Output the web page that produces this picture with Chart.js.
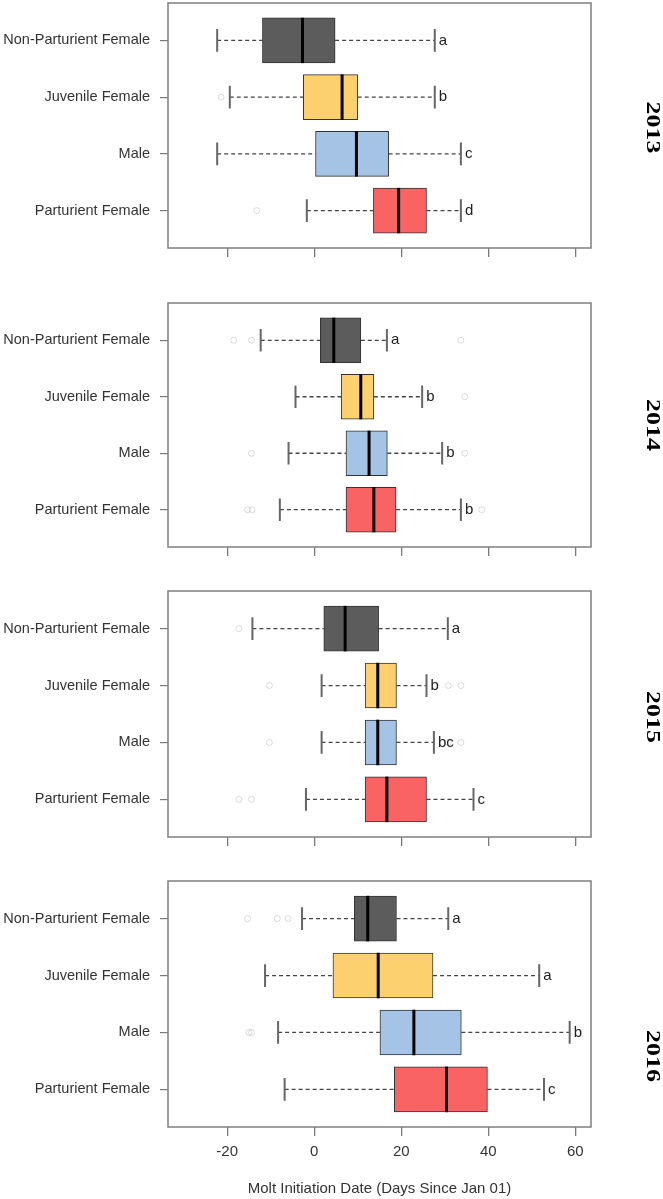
<!DOCTYPE html>
<html>
<head>
<meta charset="utf-8">
<script src="https://cdn.jsdelivr.net/npm/chart.js@4.4.7/dist/chart.umd.min.js"></script>
<style>
  html, body { margin: 0; padding: 0; background: #fff; }
  body { width: 663px; height: 1199px; position: relative; overflow: hidden; }
  .panel { position: absolute; left: 0; width: 663px; }
</style>
</head>
<body>
<div class="panel" style="top:-2px"><canvas width="663" height="264"></canvas></div>
<div class="panel" style="top:298px"><canvas width="663" height="263"></canvas></div>
<div class="panel" style="top:586px"><canvas width="663" height="265"></canvas></div>
<div class="panel" style="top:876px"><canvas width="663" height="323"></canvas></div>
<script>
const years = ['2013', '2014', '2015', '2016'];
const groups = ['Non-Parturient Female', 'Juvenile Female', 'Male', 'Parturient Female'];

// one row per year, one value per group
const lowWhisker    = [[-22.3, -19.4, -22.3, -1.7], [-12.3, -4.3, -5.9, -7.9], [-14.2, 1.7, 1.7, -1.9], [-2.8, -11.3, -8.3, -6.8]];
const lowerQuartile = [[-11.9, -2.5, 0.3, 13.6], [1.4, 6.2, 7.3, 7.3], [2.2, 11.7, 11.7, 11.7], [9.2, 4.3, 15.1, 18.4]];
const medians       = [[-2.7, 6.4, 9.7, 19.4], [4.5, 10.7, 12.6, 13.7], [7.1, 14.6, 14.6, 16.7], [12.3, 14.7, 22.9, 30.4]];
const upperQuartile = [[4.8, 10.0, 17.1, 25.8], [10.7, 13.7, 16.8, 18.8], [14.8, 18.9, 18.9, 25.8], [18.9, 27.3, 33.8, 39.8]];
const highWhisker   = [[27.7, 27.7, 33.7, 33.7], [16.7, 24.8, 29.4, 33.7], [30.7, 25.8, 27.5, 36.6], [30.8, 51.7, 58.7, 52.8]];
const letters       = [['a', 'b', 'c', 'd'], ['a', 'b', 'b', 'b'], ['a', 'b', 'bc', 'c'], ['a', 'a', 'b', 'c']];

// faint points lying outside the whiskers (group index, value)
const strayGroup = [[3, 1], [0, 0, 0, 1, 2, 2, 3, 3, 3], [0, 1, 1, 1, 2, 2, 2, 3, 3], [0, 0, 0, 2, 2]];
const strayValue = [[-13.2, -21.4], [-18.5, -14.4, 33.7, 34.6, -14.4, 34.6, -15.3, -14.3, 38.5],
                    [-17.3, -10.3, 30.8, 33.7, -10.3, 30.8, 33.7, -17.3, -14.4], [-15.3, -8.5, -6.0, -14.4, -15.0]];

const xTicks = [-20, 0, 20, 40, 60];
const fills = ['#5c5c5c', '#fdd06f', '#a4c3e5', '#f96363'];
const yearShift = [2, 0, 3, 52];

const sans = '"Liberation Sans", Arial, sans-serif';

const boxParts = {
  id: 'boxParts',
  beforeDatasetsDraw(chart, args, opts) {
    const p = opts.panel, ctx = chart.ctx;
    const xs = chart.scales.x, ys = chart.scales.y;
    ctx.save();
    groups.forEach((g, i) => {
      const y = ys.getPixelForValue(i + 1);
      ctx.strokeStyle = '#444';
      ctx.lineWidth = 1.3;
      ctx.setLineDash([4, 3]);
      ctx.beginPath();
      ctx.moveTo(xs.getPixelForValue(lowWhisker[p][i]), y);
      ctx.lineTo(xs.getPixelForValue(lowerQuartile[p][i]), y);
      ctx.moveTo(xs.getPixelForValue(upperQuartile[p][i]), y);
      ctx.lineTo(xs.getPixelForValue(highWhisker[p][i]), y);
      ctx.stroke();
      ctx.setLineDash([]);
      ctx.strokeStyle = '#666';
      ctx.lineWidth = 2;
      const top = ys.getPixelForValue(i + 0.8), bot = ys.getPixelForValue(i + 1.2);
      ctx.beginPath();
      [lowWhisker[p][i], highWhisker[p][i]].forEach(v => {
        const x = xs.getPixelForValue(v);
        ctx.moveTo(x, top);
        ctx.lineTo(x, bot);
      });
      ctx.stroke();
    });
    ctx.restore();
  },
  afterDatasetsDraw(chart, args, opts) {
    const p = opts.panel, ctx = chart.ctx;
    const xs = chart.scales.x, ys = chart.scales.y;
    ctx.save();
    groups.forEach((g, i) => {
      const x = xs.getPixelForValue(medians[p][i]);
      ctx.strokeStyle = '#000';
      ctx.lineWidth = 3;
      ctx.beginPath();
      ctx.moveTo(x, ys.getPixelForValue(i + 0.6));
      ctx.lineTo(x, ys.getPixelForValue(i + 1.4));
      ctx.stroke();
      ctx.fillStyle = '#222';
      ctx.font = '15px ' + sans;
      ctx.textAlign = 'left';
      ctx.textBaseline = 'middle';
      ctx.fillText(letters[p][i], xs.getPixelForValue(highWhisker[p][i]) + 4, ys.getPixelForValue(i + 1));
    });
    ctx.restore();
  },
  afterDraw(chart, args, opts) {
    const p = opts.panel, ctx = chart.ctx, a = chart.chartArea;
    ctx.save();
    ctx.strokeStyle = '#7f7f7f';
    ctx.lineWidth = 1.5;
    ctx.strokeRect(a.left, a.top, a.right - a.left, a.bottom - a.top);
    ctx.translate(a.right + 61, (a.top + a.bottom) / 2 + yearShift[p]);
    ctx.rotate(Math.PI / 2);
    ctx.scale(1.44, 1);
    ctx.fillStyle = '#000';
    ctx.font = 'bold 18px "Liberation Serif", "Times New Roman", serif';
    ctx.textAlign = 'center';
    ctx.textBaseline = 'middle';
    ctx.fillText(years[p], 0, 0);
    ctx.restore();
  }
};

const canvases = document.querySelectorAll('.panel canvas');
years.forEach((year, p) => {
  const last = p === years.length - 1;
  new Chart(canvases[p], {
    type: 'bar',
    data: {
      datasets: [
        {
          type: 'scatter',
          data: strayGroup[p].map((g, k) => ({ x: strayValue[p][k], y: g + 1 })),
          pointRadius: 3,
          pointBorderWidth: 1,
          pointBorderColor: 'rgba(0,0,0,0.14)',
          pointBackgroundColor: 'rgba(0,0,0,0)',
          order: 0
        },
        {
          data: groups.map((g, i) => ({ x: [lowerQuartile[p][i], upperQuartile[p][i]], y: i + 1 })),
          backgroundColor: fills,
          borderColor: '#333',
          borderWidth: 1,
          borderSkipped: false,
          barThickness: 45,
          order: 1
        }
      ]
    },
    options: {
      indexAxis: 'y',
      responsive: false,
      animation: false,
      layout: { padding: { top: 4, left: 0, right: 72, bottom: 0 } },
      plugins: {
        legend: { display: false },
        tooltip: { enabled: false },
        boxParts: { panel: p }
      },
      scales: {
        x: {
          type: 'linear',
          min: -33.6,
          max: 63.6,
          offset: false,
          afterBuildTicks: s => { s.ticks = xTicks.map(v => ({ value: v })); },
          afterFit: s => { s.height = last ? 72 : 14; s.paddingLeft = 0; s.paddingRight = 0; },
          grid: { offset: false, drawOnChartArea: false, tickLength: 9, color: '#7a7a7a', lineWidth: 1.3 },
          border: { display: false },
          ticks: { display: last, font: { family: sans, size: 15 }, color: '#333', padding: 7, maxRotation: 0 },
          title: {
            display: last,
            text: 'Molt Initiation Date (Days Since Jan 01)',
            font: { family: sans, size: 15 },
            color: '#333',
            padding: { top: 0, bottom: 1 }
          }
        },
        y: {
          type: 'linear',
          min: 0.34,
          max: 4.66,
          reverse: true,
          offset: false,
          afterBuildTicks: s => { s.ticks = groups.map((g, i) => ({ value: i + 1 })); },
          afterFit: s => { s.width = 168; s.paddingTop = 0; s.paddingBottom = 0; },
          grid: { offset: false, drawOnChartArea: false, tickLength: 8, color: '#7a7a7a', lineWidth: 1.2 },
          border: { display: false },
          ticks: {
            autoSkip: false,
            callback: v => groups[v - 1],
            font: { family: sans, size: 14.5 },
            color: '#333',
            padding: 10
          }
        }
      }
    },
    plugins: [boxParts]
  });
});
</script>
</body>
</html>
